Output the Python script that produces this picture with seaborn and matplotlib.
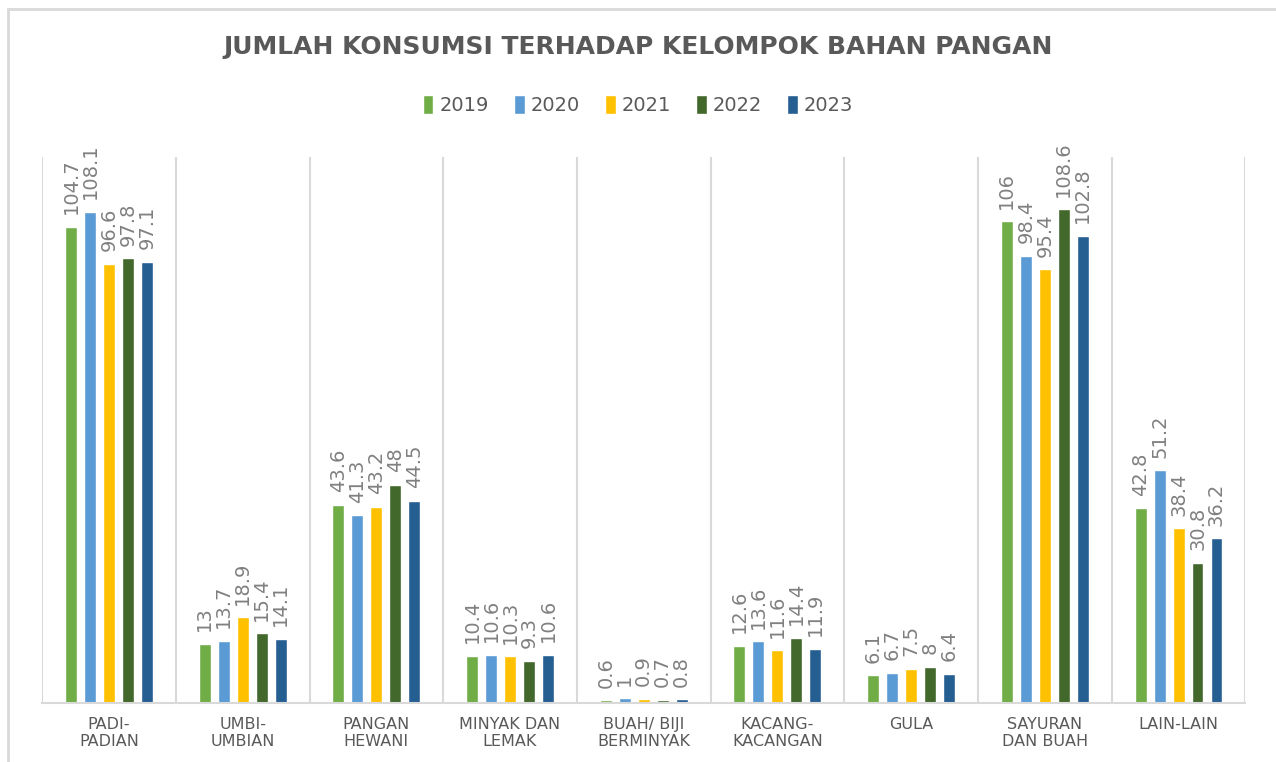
import numpy as np
import pandas as pd
import matplotlib
matplotlib.use("Agg")
import matplotlib.pyplot as plt
import seaborn as sns
from matplotlib.patches import Rectangle

# Dados do grafico
kategori = ["PADI-\nPADIAN", "UMBI-\nUMBIAN", "PANGAN\nHEWANI", "MINYAK DAN\nLEMAK",
            "BUAH/ BIJI\nBERMINYAK", "KACANG-\nKACANGAN", "GULA", "SAYURAN\nDAN BUAH", "LAIN-LAIN"]
tahun = ["2019", "2020", "2021", "2022", "2023"]
nilai_2019 = [104.7, 13, 43.6, 10.4, 0.6, 12.6, 6.1, 106, 42.8]
nilai_2020 = [108.1, 13.7, 41.3, 10.6, 1, 13.6, 6.7, 98.4, 51.2]
nilai_2021 = [96.6, 18.9, 43.2, 10.3, 0.9, 11.6, 7.5, 95.4, 38.4]
nilai_2022 = [97.8, 15.4, 48, 9.3, 0.7, 14.4, 8, 108.6, 30.8]
nilai_2023 = [97.1, 14.1, 44.5, 10.6, 0.8, 11.9, 6.4, 102.8, 36.2]
warna = ["#70AD47", "#5B9BD5", "#FFC000", "#43682B", "#255E91"]

series = [nilai_2019, nilai_2020, nilai_2021, nilai_2022, nilai_2023]
dados = pd.DataFrame({
    "kategori": np.tile(kategori, len(tahun)),
    "tahun": np.repeat(tahun, len(kategori)),
    "nilai": np.concatenate(series),
})

sns.set_style("white")
plt.rcParams["font.family"] = ["DejaVu Sans"]

fig = plt.figure(figsize=(12.76, 7.62), dpi=100)
ax = fig.add_axes([0.033, 0.0774, 0.943, 0.716])

sns.barplot(data=dados, x="kategori", y="nilai", hue="tahun", order=kategori,
            hue_order=tahun, palette=warna, saturation=1, width=0.71, gap=0.37,
            errorbar=None, ax=ax, legend=True)

# Rotulos de valores
for cont in ax.containers:
    ax.bar_label(cont, labels=[f"{v:g}" for v in cont.datavalues], rotation=90,
                 padding=9, fontsize=14, color="#808080")

ax.set_xlim(-0.5, len(kategori) - 0.5)
ax.set_ylim(0, 120)
ax.set_yticks([])
ax.set_xlabel("")
ax.set_ylabel("")
ax.set_xticks(np.arange(-0.5, len(kategori)), minor=True)
ax.grid(which="minor", axis="x", color="#D9D9D9", linewidth=1.5)
ax.tick_params(axis="x", which="both", length=0, pad=10, labelsize=11.5, colors="#595959")
for s in ["top", "left", "right"]:
    ax.spines[s].set_visible(False)
ax.spines["bottom"].set_color("#D9D9D9")
ax.spines["bottom"].set_linewidth(1.5)

# Legenda
handles, labels = ax.get_legend_handles_labels()
ax.legend_.remove()
fig.legend(handles, labels, loc="center", bbox_to_anchor=(0.5, 0.862), ncol=5,
           frameon=False, fontsize=14, handlelength=0.55, handleheight=1.1,
           handletextpad=0.3, columnspacing=1.3, labelcolor="#595959")

fig.text(0.5, 0.938, "JUMLAH KONSUMSI TERHADAP KELOMPOK BAHAN PANGAN", ha="center",
         va="center", fontsize=18, fontweight="bold", color="#595959")

# Borda do grafico
fig.patches.append(Rectangle((0.006, -0.05), 1.1, 1.038, transform=fig.transFigure,
                             fill=False, edgecolor="#D9D9D9", linewidth=2))

fig.savefig("out.png", dpi=100)
